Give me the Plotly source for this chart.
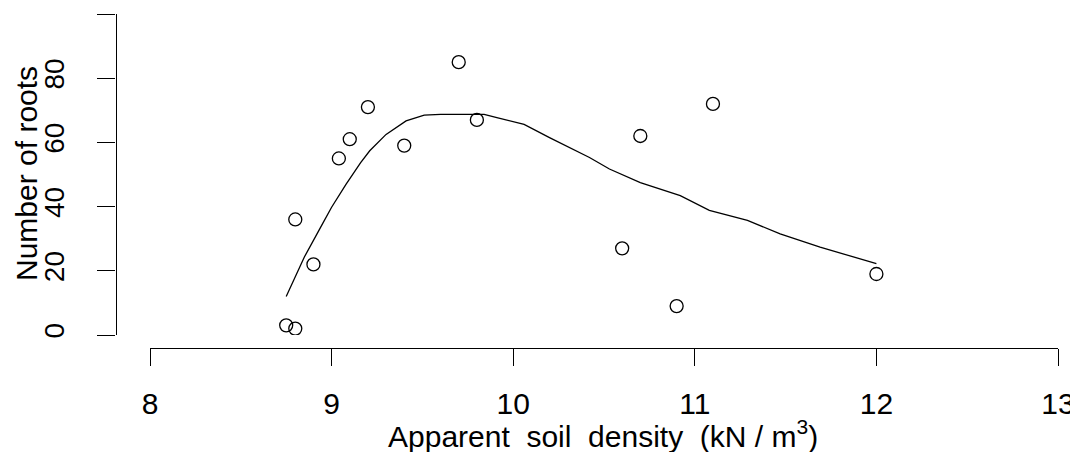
import plotly.graph_objects as go

# Observed data
density = [8.75, 8.8, 8.8, 8.9, 9.04, 9.1, 9.2, 9.4, 9.7, 9.8, 10.6, 10.7, 10.9, 11.1, 12.0]
roots = [3, 2, 36, 22, 55, 61, 71, 59, 85, 67, 27, 62, 9, 72, 19]

# Smoothed (lowess-like) curve
smooth_x = [8.75, 8.85, 8.94, 9.0, 9.08, 9.16, 9.21, 9.3, 9.41, 9.51, 9.6, 9.7, 9.84,
            9.91, 10.06, 10.2, 10.31, 10.42, 10.53, 10.7, 10.92, 11.08, 11.29, 11.47,
            11.69, 12.0]
smooth_y = [12, 24.3, 33.6, 39.8, 47, 53.7, 57.4, 62.5, 66.7, 68.5, 68.7, 68.7, 68.7,
            67.7, 65.6, 61.5, 58.4, 55.3, 51.7, 47.5, 43.4, 38.8, 35.7, 31.5, 27.4, 22.2]

x_ticks = [8, 9, 10, 11, 12, 13]
y_ticks = [0, 20, 40, 60, 80, 100]
y_tick_text = ["0", "20", "40", "60", "80", ""]

# The page body has an 8px default margin; compensate for it.
OFF = 8
W, H = 1078 - OFF, 452 - OFF
ML, MR, MT, MB = 90, 4, 2, 92
PW, PH = W - ML - MR, H - MT - MB


def px_x(p):
    return (p - OFF - ML) / PW


def px_y(p):
    return (H - MB - (p - OFF)) / PH


FONT = "Liberation Sans, Arial, sans-serif"
NB = "\u00a0"

fig = go.Figure()
fig.add_trace(go.Scatter(x=smooth_x, y=smooth_y, mode="lines",
                         line=dict(color="black", width=1.3), showlegend=False))
fig.add_trace(go.Scatter(x=density, y=roots, mode="markers",
                         marker=dict(symbol="circle-open", size=13, color="black",
                                     line=dict(width=1.3, color="black")),
                         showlegend=False))

fig.update_layout(
    width=W, height=H,
    margin=dict(l=ML, r=MR, t=MT, b=MB, autoexpand=False),
    paper_bgcolor="white", plot_bgcolor="white",
    font=dict(family=FONT, color="black"),
    xaxis=dict(domain=[px_x(150), px_x(1058)], range=[8, 13],
               anchor="free", position=px_y(348), automargin=False,
               showline=True, linecolor="black", linewidth=1.3,
               ticks="outside", ticklen=17, tickwidth=1.3, tickcolor="black",
               tickvals=x_ticks, ticktext=[str(v) for v in x_ticks],
               tickfont=dict(size=30, family=FONT, color="black"),
               ticklabelstandoff=12,
               showgrid=False, zeroline=False),
    yaxis=dict(domain=[px_y(335), px_y(14)], range=[0, 100],
               anchor="free", position=px_x(115.5), automargin=False,
               showline=True, linecolor="black", linewidth=1.3,
               ticks="outside", ticklen=18, tickwidth=1.3, tickcolor="black",
               tickvals=y_ticks, ticktext=y_tick_text, tickangle=-90,
               tickfont=dict(size=28, family=FONT, color="black"),
               ticklabelstandoff=22,
               showgrid=False, zeroline=False),
    annotations=[
        dict(text=f"Apparent{NB} soil{NB} density{NB} (kN{NB}/{NB}m<sup>3</sup>)",
             xref="paper", yref="paper",
             x=px_x(603), y=px_y(434), xanchor="center", yanchor="middle",
             showarrow=False, font=dict(size=30, family=FONT, color="black")),
        dict(text="Number of roots", xref="paper", yref="paper",
             x=px_x(27), y=px_y(174), xanchor="center", yanchor="middle",
             textangle=-90, showarrow=False,
             font=dict(size=30, family=FONT, color="black")),
    ],
)

fig.write_html("out.html")
